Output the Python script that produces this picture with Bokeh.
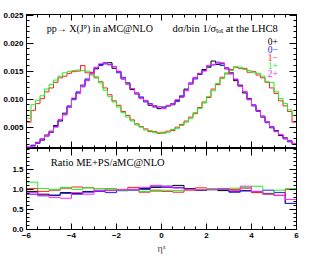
import numpy as np
from bokeh.plotting import figure
from bokeh.layouts import column
from bokeh.models import (LinearAxis, FixedTicker, NumeralTickFormatter, Label, Range1d,
                          CustomJSTickFormatter)
from bokeh.embed import file_html
from bokeh.resources import INLINE

# ---------------- data ----------------
series_names = ["0+", "0\u2212", "1\u2212", "1+", "2+"]
series_colors = ["#000000", "#2222ff", "#ff2222", "#22ee22", "#ff22ff"]

# top panel: 60 bins between -6 and 6
top_0p = [0.0014,0.0017,0.0023,0.0027,0.0036,0.0041,0.0053,0.0061,0.0075,0.0086,0.0101,0.0111,0.0125,0.0134,0.0147,0.0154,0.0162,0.0163,0.0165,0.0155,0.0149,0.0136,0.0129,0.0117,0.0111,0.0102,0.0097,0.0089,0.0088,0.0083,0.0086,0.0088,0.0090,0.0098,0.0104,0.0118,0.0127,0.0138,0.0144,0.0153,0.0157,0.0168,0.0162,0.0163,0.0154,0.0147,0.0133,0.0125,0.0111,0.0101,0.0088,0.0080,0.0068,0.0060,0.0049,0.0044,0.0035,0.0031,0.0024,0.0021]
top_0m = [0.0013,0.0018,0.0021,0.0029,0.0034,0.0043,0.0051,0.0063,0.0072,0.0088,0.0099,0.0113,0.0122,0.0136,0.0145,0.0156,0.0160,0.0165,0.0162,0.0158,0.0147,0.0139,0.0127,0.0119,0.0109,0.0104,0.0095,0.0092,0.0086,0.0086,0.0084,0.0088,0.0092,0.0096,0.0106,0.0116,0.0129,0.0136,0.0146,0.0151,0.0159,0.0161,0.0166,0.0160,0.0156,0.0145,0.0135,0.0123,0.0113,0.0099,0.0090,0.0078,0.0070,0.0058,0.0051,0.0042,0.0037,0.0029,0.0026,0.0019]
top_1m = [0.0059,0.0080,0.0092,0.0101,0.0113,0.0120,0.0130,0.0138,0.0141,0.0146,0.0149,0.0150,0.0160,0.0147,0.0148,0.0138,0.0131,0.0120,0.0108,0.0097,0.0089,0.0078,0.0071,0.0063,0.0056,0.0051,0.0047,0.0042,0.0042,0.0039,0.0041,0.0043,0.0044,0.0050,0.0055,0.0061,0.0068,0.0074,0.0085,0.0095,0.0103,0.0118,0.0126,0.0139,0.0145,0.0153,0.0157,0.0155,0.0155,0.0148,0.0149,0.0143,0.0138,0.0130,0.0120,0.0110,0.0097,0.0088,0.0078,0.0059]
top_1p = [0.0066,0.0090,0.0098,0.0106,0.0118,0.0126,0.0134,0.0141,0.0147,0.0149,0.0151,0.0152,0.0151,0.0150,0.0143,0.0140,0.0129,0.0116,0.0105,0.0095,0.0086,0.0076,0.0068,0.0061,0.0054,0.0050,0.0045,0.0044,0.0040,0.0041,0.0039,0.0041,0.0046,0.0048,0.0053,0.0059,0.0066,0.0076,0.0083,0.0093,0.0105,0.0115,0.0128,0.0137,0.0147,0.0151,0.0158,0.0157,0.0153,0.0151,0.0147,0.0146,0.0141,0.0131,0.0130,0.0113,0.0101,0.0092,0.0081,0.0071]
top_2p = [0.0015,0.0016,0.0022,0.0030,0.0035,0.0042,0.0050,0.0064,0.0073,0.0085,0.0102,0.0110,0.0124,0.0133,0.0146,0.0157,0.0163,0.0164,0.0161,0.0158,0.0150,0.0137,0.0127,0.0119,0.0110,0.0101,0.0098,0.0090,0.0086,0.0087,0.0083,0.0089,0.0091,0.0099,0.0103,0.0115,0.0128,0.0139,0.0145,0.0150,0.0160,0.0162,0.0164,0.0165,0.0155,0.0146,0.0136,0.0123,0.0114,0.0100,0.0089,0.0079,0.0069,0.0060,0.0050,0.0043,0.0037,0.0030,0.0025,0.0021]

# ratio panel: 24 bins between -6 and 6
ratio_0p = [0.95,0.88,0.85,0.92,0.90,0.95,0.97,0.98,0.97,1.00,1.02,1.05,1.08,1.10,1.02,0.98,1.00,0.97,0.94,0.97,0.93,0.90,0.85,0.65]
ratio_0m = [0.88,0.84,0.86,0.90,0.88,0.93,0.95,0.92,0.97,0.98,1.00,1.08,1.05,1.05,1.00,0.98,0.99,1.00,0.93,0.96,0.95,0.98,0.92,0.65]
ratio_1m = [1.02,0.95,0.98,1.03,1.06,1.04,0.98,1.02,1.00,1.05,0.93,0.98,0.95,0.93,0.98,1.04,1.00,1.02,1.00,1.03,0.92,0.88,0.85,1.00]
ratio_1p = [1.18,1.02,1.00,1.05,1.00,1.04,1.02,1.02,0.98,1.00,0.95,0.95,0.98,0.97,1.00,1.00,1.02,1.01,1.03,1.05,1.08,0.88,0.98,1.02]
ratio_2p = [0.92,0.85,0.80,0.78,0.92,0.88,0.97,0.97,0.99,1.00,1.05,1.10,1.07,1.03,1.00,0.99,1.00,1.02,0.97,1.08,0.95,0.88,0.85,0.75]

x_ticks = [-6, -4, -2, 0, 2, 4, 6]
x_tick_labels = ["\u22126", "\u22124", "\u22122", "0", "2", "4", "6"]
top_y_ticks = [0.005, 0.010, 0.015, 0.020, 0.025]
ratio_y_ticks = [0.0, 0.5, 1.0, 1.5]

top_series = [top_0p, top_0m, top_1m, top_1p, top_2p]
ratio_series = [ratio_0p, ratio_0m, ratio_1m, ratio_1p, ratio_2p]

top_edges = list(np.linspace(-6, 6, len(top_0p) + 1))
ratio_edges = list(np.linspace(-6, 6, len(ratio_0p) + 1))

TICK_FONT = "Liberation Sans"
TEXT_FONT = "Liberation Serif"


def make_axis(ticks, minor, fmt=None, labels=True, maj=6, mnr=3, overrides=None):
    ax = LinearAxis(ticker=FixedTicker(ticks=ticks, minor_ticks=minor))
    if labels:
        if fmt is not None:
            ax.formatter = fmt
        if overrides:
            ax.major_label_overrides = overrides
    else:
        ax.formatter = CustomJSTickFormatter(code="return '';")
    ax.major_tick_in = maj
    ax.major_tick_out = 0
    ax.minor_tick_in = mnr
    ax.minor_tick_out = 0
    ax.axis_line_color = "black"
    ax.axis_line_width = 1
    ax.major_tick_line_color = "black"
    ax.minor_tick_line_color = "black"
    ax.major_label_text_font = TICK_FONT
    ax.major_label_text_font_style = "bold"
    ax.major_label_text_font_size = "8px"
    ax.major_label_text_color = "black"
    ax.major_label_standoff = 3 if labels else 0
    return ax


x_minor = list(np.arange(-6, 6.01, 0.5))
top_minor = list(np.arange(0.001, 0.0251, 0.001))
ratio_minor = list(np.arange(0.0, 2.01, 0.1))

# ---------------- top panel ----------------
p1 = figure(width=314, height=148, x_range=Range1d(-6, 6), y_range=Range1d(0.0012, 0.0251),
            output_backend="svg", toolbar_location=None,
            x_axis_location=None, y_axis_location=None,
            min_border_left=26, min_border_right=18, min_border_top=14, min_border_bottom=0)
p1.grid.visible = False
p1.outline_line_color = "black"
p1.background_fill_color = "white"
p1.border_fill_color = "white"

p1.add_layout(make_axis(top_y_ticks, top_minor, NumeralTickFormatter(format="0.000"), True, 7, 3), "left")
p1.add_layout(make_axis(top_y_ticks, top_minor, None, False, 7, 3), "right")
p1.add_layout(make_axis(x_ticks, x_minor, None, False, 6, 3), "above")
p1.add_layout(make_axis(x_ticks, x_minor, None, False, 7, 3), "below")

for vals, col in zip(top_series, series_colors):
    p1.step(x=top_edges, y=list(vals) + [vals[-1]], mode="after", line_color=col, line_width=1)

p1.add_layout(Label(x=-5.1, y=0.0226, text="pp\u2192 X(J\u1d3e) in aMC@NLO", text_font=TEXT_FONT,
                    text_font_size="10px", text_baseline="middle", text_color="black"))
p1.add_layout(Label(x=0.49, y=0.0226, text="d\u03c3/bin 1/\u03c3\u209c\u2092\u209c at the LHC8", text_font=TEXT_FONT,
                    text_font_size="10.5px", text_baseline="middle", text_color="black"))
for i, (name, col) in enumerate(zip(series_names, series_colors)):
    p1.add_layout(Label(x=4.72, y=0.0202 - 0.00141 * i, text=name, text_font=TEXT_FONT,
                        text_font_size="9.5px", text_baseline="middle", text_color=col))

# ---------------- ratio panel ----------------
p2 = figure(width=314, height=115, x_range=p1.x_range, y_range=Range1d(0, 2.02),
            output_backend="svg", toolbar_location=None,
            x_axis_location=None, y_axis_location=None,
            min_border_left=26, min_border_right=18, min_border_top=0, min_border_bottom=34)
p2.grid.visible = False
p2.outline_line_color = "black"
p2.background_fill_color = "white"
p2.border_fill_color = "white"

p2.add_layout(make_axis(ratio_y_ticks, ratio_minor, NumeralTickFormatter(format="0.0"), True, 7, 3), "left")
p2.add_layout(make_axis(ratio_y_ticks, ratio_minor, None, False, 7, 3), "right")
p2.add_layout(make_axis(x_ticks, x_minor, None, False, 7, 3), "above")
bx = make_axis(x_ticks, x_minor, None, True, 6, 3,
               overrides={t: l for t, l in zip(x_ticks, x_tick_labels)})
bx.axis_label = "\u03b7\u02e3"
bx.axis_label_text_font = TEXT_FONT
bx.axis_label_text_font_style = "normal"
bx.axis_label_text_font_size = "10px"
bx.axis_label_standoff = 2
p2.add_layout(bx, "below")

for vals, col in zip(ratio_series, series_colors):
    p2.step(x=ratio_edges, y=list(vals) + [vals[-1]], mode="after", line_color=col, line_width=1)

p2.add_layout(Label(x=-4.92, y=1.665, text="Ratio ME+PS/aMC@NLO", text_font=TEXT_FONT,
                    text_font_size="10.5px", text_baseline="middle", text_color="black"))

layout = column(p1, p2, spacing=0)

open("out.html", "w").write(file_html(layout, INLINE))
